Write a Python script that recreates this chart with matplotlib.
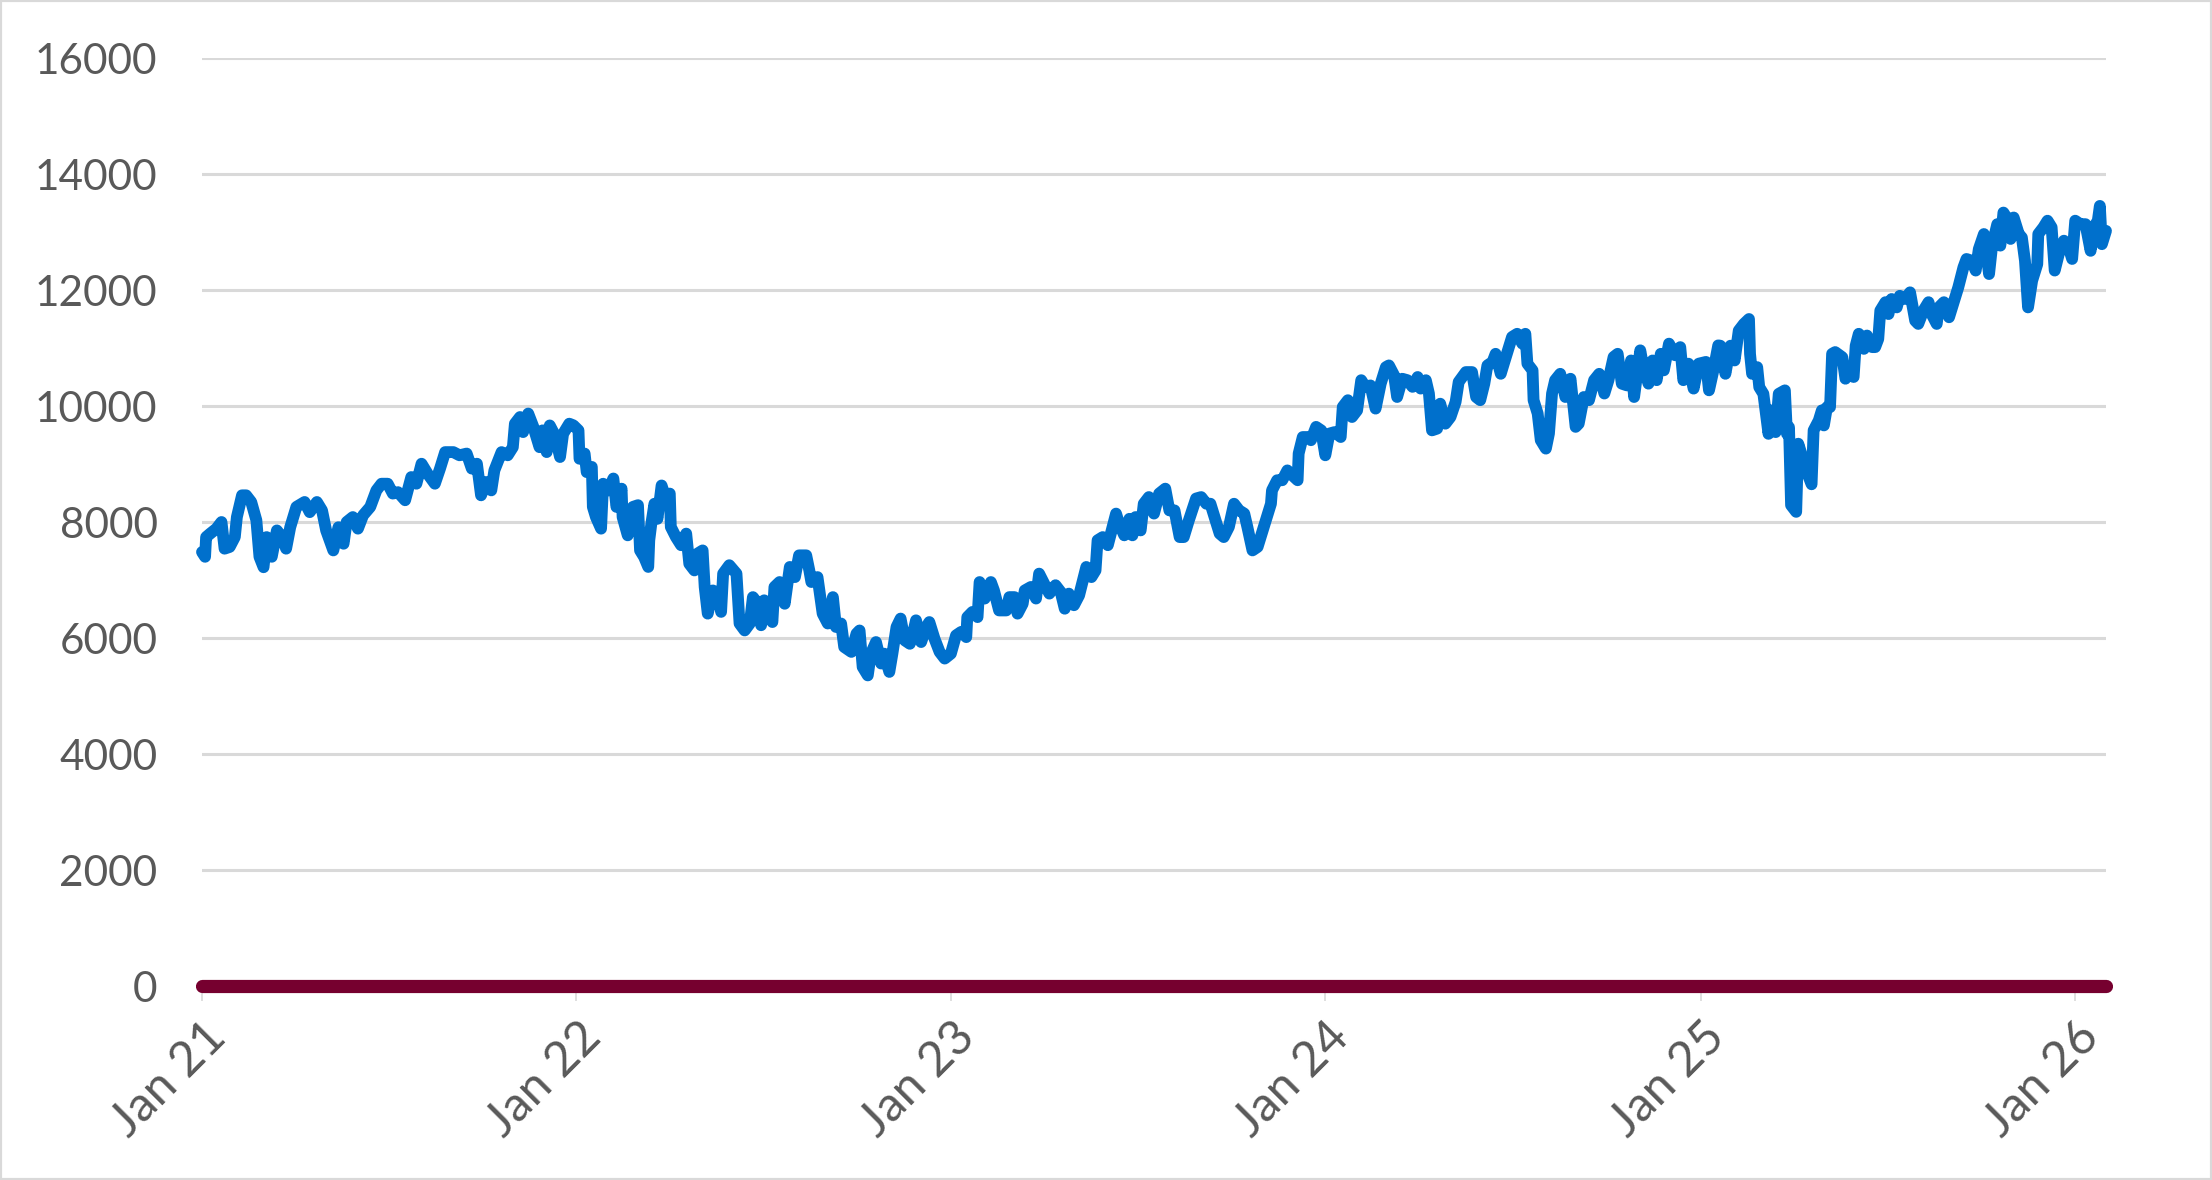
import pandas as pd
import matplotlib
matplotlib.use("Agg")
import matplotlib.pyplot as plt
from matplotlib.patches import Rectangle
from matplotlib.transforms import ScaledTranslation

# index level; day = days since START
START = pd.Timestamp("2021-01-01")

day = [
    0, 3, 4, 8, 14, 19, 22, 27, 32, 34, 39, 43, 48, 53, 56, 60, 63, 68, 73, 78,
    82, 86, 92, 100, 105, 112, 117, 121, 128, 133, 138, 141, 147, 152, 157, 164,
    170, 175, 181, 186, 191, 198, 204, 209, 214, 220, 227, 232, 237, 245, 251,
    258, 263, 268, 272, 277, 282, 285, 292, 298, 303, 305, 310, 313, 318, 323,
    329, 332, 336, 339, 344, 349, 352, 358,
    362, 367, 368, 373, 375, 380, 381, 384, 389, 391, 396, 401, 404, 409, 410,
    415, 420, 425, 427, 431, 435, 436, 438, 441, 444, 448, 451, 456, 457, 462,
    467, 472, 475, 480, 483, 488, 490, 493, 498, 503, 506, 508, 514, 521, 524,
    529, 534, 537, 542, 545, 548, 552, 556, 558, 563, 568, 573, 578, 582, 589,
    592, 594, 600, 605, 610, 615, 618, 623, 626, 633, 638, 641, 644, 649, 652,
    657, 662, 665, 670, 673, 677, 681, 685, 690, 693, 696, 701, 706, 709, 714,
    719, 724, 730,
    735, 740, 745, 746, 751, 756, 758, 763, 769, 772, 777, 784, 787, 792, 795,
    800, 802, 808, 813, 816, 821, 826, 832, 837, 841, 845, 850, 855, 862, 867,
    871, 873, 878, 883, 888, 891, 894, 899, 904, 907, 910, 915, 918, 923, 928,
    933, 939, 943, 948, 953, 957, 962, 969, 974, 979, 983, 988, 992, 996, 1001,
    1006, 1011, 1016, 1019, 1024, 1029, 1034, 1037, 1042, 1043, 1048, 1053,
    1058, 1061, 1068, 1069, 1073, 1078, 1081, 1086, 1091,
    1092, 1095, 1099, 1104, 1110, 1112, 1117, 1121, 1126, 1130, 1134, 1139,
    1144, 1149, 1154, 1157, 1162, 1165, 1170, 1175, 1180, 1185, 1188, 1193,
    1196, 1199, 1204, 1207, 1212, 1217, 1222, 1225, 1232, 1238, 1242, 1246,
    1250, 1253, 1258, 1261, 1266, 1269, 1274, 1277, 1282, 1287, 1290, 1292,
    1297, 1298, 1302, 1305, 1310, 1313, 1316, 1319, 1324, 1329, 1334, 1339,
    1342, 1347, 1352, 1357, 1362, 1367, 1371, 1376, 1380, 1384, 1389, 1393,
    1396, 1402, 1405, 1410, 1414, 1418, 1422, 1425, 1430, 1436, 1441, 1444,
    1449, 1454, 1459, 1466, 1469, 1474, 1478,
    1480, 1485, 1490, 1494, 1498, 1503, 1508, 1509, 1511, 1516, 1518, 1522,
    1527, 1530, 1534, 1537, 1543, 1545, 1547, 1549, 1554, 1556, 1560, 1565,
    1569, 1571, 1576, 1579, 1581, 1584, 1587, 1589, 1592, 1599, 1602, 1607,
    1610, 1612, 1615, 1620, 1623, 1628, 1631, 1634, 1636, 1641, 1644, 1647,
    1652, 1655, 1660, 1665, 1670, 1673, 1678, 1683, 1686, 1691, 1693, 1698,
    1703, 1706, 1712, 1717, 1720, 1725, 1729, 1732, 1737, 1742, 1745, 1750,
    1753, 1756, 1759, 1763, 1766, 1771, 1774, 1777, 1780, 1784, 1789, 1790,
    1795, 1799, 1803, 1806, 1810, 1815, 1819, 1823, 1826, 1831, 1836, 1841,
    1844, 1848, 1850, 1852, 1856,
]

level = [
    7482, 7400, 7740, 7800, 7885, 8000, 7540, 7570, 7740, 8085, 8460, 8460,
    8345, 8030, 7400, 7220, 7740, 7400, 7855, 7740, 7540, 7910, 8260, 8345,
    8170, 8345, 8200, 7855, 7510, 7910, 7625, 8000, 8085, 7885, 8115, 8260,
    8545, 8660, 8660, 8490, 8515, 8375, 8775, 8660, 9005, 8830, 8660, 8920,
    9205, 9205, 9150, 9180, 8920, 9005, 8460, 8690, 8545, 8890, 9205, 9150,
    9290, 9695, 9810, 9550, 9870, 9640, 9290, 9580, 9205, 9665, 9495, 9120,
    9520, 9695,
    9667, 9580, 9090, 9180, 8860, 8950, 8260, 8085, 7885, 8660, 8545, 8750,
    8260, 8575, 8085, 7770, 8260, 8290, 7510, 7395, 7225, 7685, 7970, 8315,
    8055, 8630, 8460, 8490, 7915, 7740, 7600, 7800, 7280, 7165, 7455, 7510,
    6880, 6420, 6820, 6765, 6450, 7110, 7255, 7110, 6250, 6130, 6250, 6705,
    6590, 6220, 6650, 6590, 6275, 6880, 6965, 6590, 7225, 7050, 7425, 7425,
    7165, 6965, 7050, 6420, 6250, 6705, 6190, 6250, 5845, 5760, 6075, 6130,
    5500, 5355, 5730, 5930, 5560, 5730, 5415, 5730, 6190, 6335, 5960, 5900,
    6075, 6305, 5930, 6190, 6275, 5990, 5760, 5645, 5730,
    6045, 6105, 6015, 6360, 6450, 6360, 6965, 6680, 6965, 6820, 6475, 6475,
    6705, 6705, 6420, 6590, 6820, 6880, 6680, 7110, 6935, 6765, 6910, 6795,
    6505, 6765, 6565, 6735, 7225, 7050, 7165, 7685, 7740, 7600, 7945, 8145,
    7970, 7770, 8055, 7770, 8085, 7855, 8315, 8430, 8145, 8490, 8575, 8200,
    8200, 7740, 7740, 8030, 8405, 8430, 8315, 8315, 8030, 7800, 7740, 7915,
    8315, 8200, 8145, 7915, 7510, 7570, 7855, 8030, 8315, 8545, 8720, 8720,
    8890, 8835, 8720, 9180, 9465, 9465, 9410, 9640, 9580,
    9465, 9150, 9525, 9550, 9465, 9985, 10100, 9810, 9925, 10445, 10330,
    10355, 9955, 10385, 10670, 10700, 10530, 10155, 10470, 10445, 10330,
    10500, 10300, 10445, 10215, 9580, 9610, 10040, 9695, 9810, 10070, 10415,
    10585, 10585, 10155, 10100, 10385, 10700, 10760, 10900, 10555, 10730,
    11015, 11190, 11245, 11075, 11245, 10730, 10615, 10100, 9870, 9410, 9265,
    9525, 10215, 10445, 10555, 10155, 10470, 9640, 9695, 10155, 10100, 10445,
    10555, 10215, 10445, 10845, 10900, 10385, 10355, 10785, 10155, 10960,
    10670, 10385, 10785, 10445, 10900, 10615, 11075, 10875, 11015, 10445,
    10730, 10300, 10730, 10760, 10270, 10670, 11045,
    11040, 10555, 11040, 10785, 11300, 11415, 11500, 10900, 10555, 10670,
    10325, 10210, 9520, 9925, 9550, 10210, 10270, 9520, 9635, 8290, 8175,
    9350, 9120, 8835, 8650, 9580, 9750, 9925, 9665, 9980, 9980, 10900, 10930,
    10840, 10470, 10610, 10500, 11040, 11245, 10985, 11215, 11015, 11015,
    11155, 11645, 11790, 11585, 11845, 11700, 11900, 11845, 11960, 11470,
    11415, 11645, 11790, 11585, 11415, 11700, 11790, 11530, 11700, 12045,
    12390, 12535, 12505, 12335, 12705, 12965, 12275, 12765, 13135, 12765,
    13335, 13250, 12880, 13250, 12965, 12905, 12505, 11700, 12160, 12445,
    12965, 13080, 13195, 13080, 12335, 12620, 12850, 12765, 12535, 13195,
    13135, 13135, 12675, 13080, 13195, 13450, 12790, 13020,
]

zero_level = [0, 0]

y_ticks = list(range(0, 16001, 2000))
tick_years = [2021, 2022, 2023, 2024, 2025, 2026]
tick_labels = ["Jan 21", "Jan 22", "Jan 23", "Jan 24", "Jan 25", "Jan 26"]

plt.rcParams['font.family'] = ['Lato', 'DejaVu Sans']

dates = START + pd.to_timedelta(day, unit="D")
W, H = 2212, 1180
fig = plt.figure(figsize=(W / 100, H / 100), dpi=100)
ax = fig.add_axes([202 / W, 1 - 986 / H, (2106 - 202) / W, (986 - 58) / H])

ax.plot(dates, level, color='#0070CC', lw=8.5, solid_joinstyle='round',
        solid_capstyle='round', zorder=3, clip_on=False)
ax.plot([dates[0], dates[-1]], zero_level, color='#76002F', lw=9.5,
        solid_capstyle='round', zorder=4, clip_on=False)

ax.set_ylim(0, 16000)
ax.set_xlim(dates[0], dates[-1])
ax.set_yticks(y_ticks, [str(v) for v in y_ticks])
ax.set_xticks([pd.Timestamp(f"{y}-01-01") for y in tick_years], tick_labels,
              rotation=45, ha='right', va='top', rotation_mode='anchor')

ax.yaxis.grid(True, color='#D9D9D9', lw=2.2)
ax.set_axisbelow(True)
for s in ax.spines.values():
    s.set_visible(False)

ax.tick_params(axis='y', length=0, pad=32, labelsize=30.5, labelcolor='#595959')
ax.tick_params(axis='x', length=11, width=1.2, color='#D9D9D9', pad=9,
               labelsize=35, labelcolor='#595959')
shift = ScaledTranslation(1 / 100, 0, fig.dpi_scale_trans)
for lbl in ax.get_xticklabels():
    lbl.set_transform(lbl.get_transform() + shift)

fig.patches.append(Rectangle((0, 0), 1, 1, transform=fig.transFigure,
                             fill=False, ec='#D9D9D9', lw=3))

fig.savefig('out.png', dpi=100)
